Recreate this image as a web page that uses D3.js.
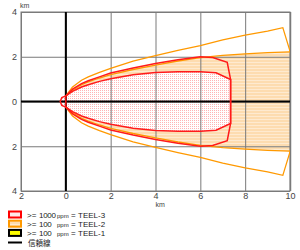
<!DOCTYPE html>
<html>
<head>
<meta charset="utf-8">
<script src="https://cdn.jsdelivr.net/npm/d3@7"></script>
<style>
  body { margin: 0; background: #fff; }
  svg { display: block; font-family: "Liberation Sans", Arial, sans-serif; }
</style>
</head>
<body>
<svg id="chart" width="300" height="250"></svg>
<script>
// downwind distance (km) / crosswind half-width (km), upper half; lower half is mirrored
const teel2ConfX = [0, 0.3, 0.7, 1, 1.5, 2, 3, 4, 5, 6, 7, 8, 9, 9.68, 10];
const teel2ConfY = [0.25, 0.65, 0.95, 1.1, 1.3, 1.48, 1.8, 2.05, 2.28, 2.5, 2.75, 2.97, 3.15, 3.3, 2.25];

const teel2ZoneX = [0, 0.3, 0.7, 1, 1.5, 2, 3, 4, 5, 6, 7, 8, 9, 10];
const teel2ZoneY = [0.25, 0.5, 0.75, 0.88, 1.05, 1.2, 1.43, 1.63, 1.81, 1.96, 2.06, 2.13, 2.18, 2.22];

const teel3ConfX = [0, 0.3, 0.7, 1, 1.5, 2, 3, 4, 5, 6, 6.55, 7.2, 7.35];
const teel3ConfY = [0.25, 0.55, 0.8, 0.93, 1.1, 1.27, 1.5, 1.7, 1.87, 2.0, 1.97, 1.75, 0.98];

const teel3ZoneX = [0, 0.3, 0.7, 1, 1.5, 2, 3, 4, 5, 6, 6.7, 7.35];
const teel3ZoneY = [0.25, 0.45, 0.65, 0.75, 0.9, 1.02, 1.2, 1.3, 1.33, 1.33, 1.28, 0.98];

// little source circle behind the release point
const srcArcX = [0, -0.18, -0.25, -0.18, 0];
const srcArcY = [-0.25, -0.18, 0, 0.18, 0.25];

const xTicks = [-2, 0, 2, 4, 6, 8, 10];
const yTicks = [-4, -2, 0, 2, 4];

const legendItems = [
  { conc: "1000", name: "TEEL-3", stroke: "#ff0000", fill: "#ffe8e8" },
  { conc: "100", name: "TEEL-2", stroke: "#ff9900", fill: "#fddcae" },
  { conc: "100", name: "TEEL-1", stroke: "#000000", fill: "#ffff00" }
];
const confLabel = "信頼線";

const svg = d3.select("#chart");
const x = d3.scaleLinear().domain([-2, 10]).range([21, 290]);
const y = d3.scaleLinear().domain([-4, 4]).range([191, 12]);

const defs = svg.append("defs");
const dots = defs.append("pattern").attr("id", "dots")
  .attr("width", 2).attr("height", 2).attr("patternUnits", "userSpaceOnUse");
dots.append("rect").attr("width", 2).attr("height", 2).attr("fill", "#fff");
dots.append("rect").attr("width", 1).attr("height", 1).attr("fill", "#ffb4b4");

const stripes = defs.append("pattern").attr("id", "stripes")
  .attr("width", 4).attr("height", 3).attr("patternUnits", "userSpaceOnUse");
stripes.append("rect").attr("width", 4).attr("height", 3).attr("fill", "#fddcb0");
stripes.append("rect").attr("y", 2).attr("width", 4).attr("height", 1).attr("fill", "#feead0");

defs.append("clipPath").attr("id", "plotClip")
  .append("rect").attr("x", x(-2)).attr("y", y(4))
  .attr("width", x(10) - x(-2)).attr("height", y(-4) - y(4));

const pairs = (xs, ys) => xs.map((v, i) => [v, ys[i]]);
const mirror = pts => pts.map(([a, b]) => [a, -b]);
const line = d3.line().x(d => x(d[0])).y(d => y(d[1]));

const closedShape = (xs, ys, withArc) => {
  const upper = pairs(xs, ys);
  const lower = mirror(upper).reverse();
  let pts = upper.concat(lower);
  if (withArc) pts = pts.concat(pairs(srcArcX, srcArcY));
  return line(pts) + "Z";
};

const plot = svg.append("g").attr("clip-path", "url(#plotClip)");

// zone fills
plot.append("path").attr("d", closedShape(teel2ZoneX, teel2ZoneY, true))
  .attr("fill", "url(#stripes)");
plot.append("path").attr("d", closedShape(teel3ZoneX, teel3ZoneY, true))
  .attr("fill", "url(#dots)");

// grid via axes
const gx = svg.append("g").attr("transform", `translate(0,${y(-4)})`)
  .call(d3.axisBottom(x).tickValues(xTicks).tickSize(-(y(-4) - y(4)))
    .tickFormat(d => Math.abs(d)));
const gy = svg.append("g").attr("transform", `translate(${x(-2)},0)`)
  .call(d3.axisLeft(y).tickValues(yTicks).tickSize(-(x(10) - x(-2)))
    .tickFormat(d => Math.abs(d)));
[gx, gy].forEach(g => {
  g.select(".domain").remove();
  g.selectAll(".tick line").attr("stroke", "#7a7a7a").attr("stroke-width", 1);
  g.selectAll(".tick text").attr("fill", "#444").attr("font-size", 9);
});
gx.selectAll(".tick text").attr("dy", "0.5em");
gy.selectAll(".tick text").attr("dx", "-0.1em");

// plot frame
svg.append("rect").attr("x", x(-2)).attr("y", y(4))
  .attr("width", x(10) - x(-2)).attr("height", y(-4) - y(4))
  .attr("fill", "none").attr("stroke", "#7a7a7a").attr("stroke-width", 1);
svg.append("line").attr("x1", x(10) + 0.5).attr("x2", x(10) + 0.5)
  .attr("y1", y(4)).attr("y2", y(-4)).attr("stroke", "#7a7a7a").attr("stroke-width", 1.5);

// zero axes
svg.append("line").attr("x1", x(-2)).attr("x2", x(10)).attr("y1", y(0)).attr("y2", y(0))
  .attr("stroke", "#000").attr("stroke-width", 2);
svg.append("line").attr("x1", x(0)).attr("x2", x(0)).attr("y1", y(4)).attr("y2", y(-4))
  .attr("stroke", "#000").attr("stroke-width", 2);

// outlines
const lines = svg.append("g").attr("clip-path", "url(#plotClip)").attr("fill", "none");
const confUpper = pairs(teel2ConfX, teel2ConfY);
lines.append("path").attr("d", line(confUpper)).attr("stroke", "#ff9900").attr("stroke-width", 1.3);
lines.append("path").attr("d", line(mirror(confUpper))).attr("stroke", "#ff9900").attr("stroke-width", 1.3);
const zoneUpper = pairs(teel2ZoneX, teel2ZoneY);
lines.append("path").attr("d", line(zoneUpper)).attr("stroke", "#ff9900").attr("stroke-width", 1.3);
lines.append("path").attr("d", line(mirror(zoneUpper))).attr("stroke", "#ff9900").attr("stroke-width", 1.3);
lines.append("path").attr("d", closedShape(teel3ConfX, teel3ConfY, false))
  .attr("stroke", "#ff1a1a").attr("stroke-width", 1.5);
lines.append("path").attr("d", closedShape(teel3ZoneX, teel3ZoneY, true))
  .attr("stroke", "#ff1a1a").attr("stroke-width", 1.5);

// unit labels
svg.append("text").attr("x", 20).attr("y", 8).attr("font-size", 7).attr("fill", "#444").text("km");
svg.append("text").attr("x", x(4)).attr("y", 207).attr("font-size", 7).attr("fill", "#444").text("km");

// legend
const leg = svg.append("g").attr("font-size", 8).attr("fill", "#222");
legendItems.forEach((d, i) => {
  const cy = 214.5 + i * 9.2;
  leg.append("rect").attr("x", 9).attr("y", cy - 3).attr("width", 12).attr("height", 6)
    .attr("fill", i === 1 ? "url(#stripes)" : d.fill).attr("stroke", d.stroke).attr("stroke-width", 2);
  const row = leg.append("g").attr("transform", `translate(0,${cy + 3})`);
  row.append("text").attr("x", 27).text(">=");
  row.append("text").attr("x", 39).attr("letter-spacing", -0.3).text(d.conc);
  row.append("text").attr("x", 57).attr("font-size", 6).text("ppm");
  row.append("text").attr("x", 71).text("=");
  row.append("text").attr("x", 78).text(d.name);
});
const cy4 = 242.5;
leg.append("line").attr("x1", 8).attr("x2", 22).attr("y1", cy4).attr("y2", cy4)
  .attr("stroke", "#000").attr("stroke-width", 2);
leg.append("text").attr("x", 28).attr("y", cy4 + 3.5).attr("font-size", 7.5)
  .attr("font-family", "Noto Sans CJK JP").text(confLabel);
</script>
</body>
</html>
